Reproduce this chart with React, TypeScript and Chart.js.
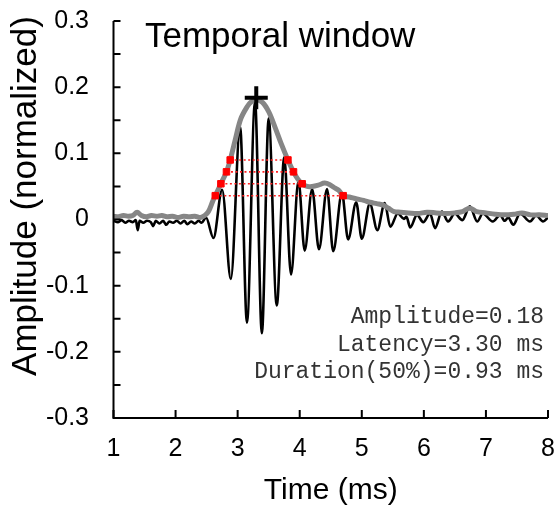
import React, { useEffect, useRef } from 'react';
import { Chart, registerables } from 'chart.js';

Chart.register(...registerables);

// ---- data ----
const blackT = [
  1.0, 1.07, 1.13, 1.19, 1.25, 1.31, 1.36, 1.39, 1.42, 1.48, 1.54, 1.6, 1.64, 1.68, 1.74, 1.8, 1.85, 1.9,
  1.96, 2.02, 2.08, 2.14, 2.19, 2.25, 2.31, 2.37, 2.42, 2.49, 2.61, 2.75, 2.89, 3.04, 3.15, 3.28, 3.39,
  3.5, 3.63, 3.75, 3.86, 3.98, 4.08, 4.2, 4.31, 4.44, 4.54, 4.68, 4.78, 4.91, 5.0, 5.13, 5.25, 5.37,
  5.46, 5.58, 5.68, 5.72, 5.78, 5.89, 5.99, 6.1, 6.18, 6.29, 6.39, 6.5, 6.62, 6.74, 6.86, 6.95, 7.11,
  7.23, 7.3, 7.36, 7.44, 7.55, 7.71, 7.81, 7.92, 8.0,
];
const blackV = [
  -0.002, -0.004, -0.001, -0.005, -0.002, -0.004, -0.001, -0.016, -0.002, -0.005, -0.002, -0.004, -0.01,
  -0.002, -0.006, -0.002, -0.008, -0.003, -0.005, -0.002, -0.006, -0.002, -0.007, -0.003, -0.006, -0.002,
  -0.005, 0.003, -0.028, 0.045, -0.09, 0.14, -0.156, 0.178, -0.172, 0.153, -0.13, 0.094, -0.083, 0.058,
  -0.047, 0.046, -0.045, 0.046, -0.048, 0.04, -0.03, 0.026, -0.029, 0.024, -0.016, 0.025, -0.011, 0.009,
  0.001, 0.004, -0.012, 0.007, -0.004, 0.009, -0.013, 0.012, -0.003, 0.009, -0.001, 0.02, -0.003, 0.009,
  -0.003, 0.007, -0.002, 0.003, -0.008, 0.009, -0.003, 0.006, -0.003, 0.003,
];

const envT = [
  1.0, 1.08, 1.16, 1.24, 1.31, 1.38, 1.45, 1.53, 1.61, 1.7, 1.78, 1.86, 1.95, 2.04, 2.13, 2.22, 2.31, 2.4,
  2.47, 2.53, 2.6, 2.64, 2.73, 2.82, 2.88, 2.96, 3.05, 3.15, 3.22, 3.3, 3.4, 3.5, 3.6, 3.7, 3.81, 3.9,
  3.97, 4.04, 4.12, 4.2, 4.3, 4.4, 4.48, 4.56, 4.63, 4.7, 4.8, 4.92, 5.03, 5.13, 5.24, 5.34, 5.43, 5.52,
  5.62, 5.75, 5.9, 6.05, 6.2, 6.35, 6.5, 6.62, 6.74, 6.85, 7.0, 7.15, 7.3, 7.45, 7.58, 7.72, 7.86, 8.0,
];
const envV = [
  0.005, 0.004, 0.006, 0.005, 0.006, 0.011, 0.006, 0.004, 0.006, 0.005, 0.006, 0.004, 0.005, 0.003, 0.005,
  0.004, 0.005, 0.003, 0.006, 0.012, 0.028, 0.036, 0.054, 0.072, 0.09, 0.12, 0.152, 0.17, 0.178, 0.181,
  0.177, 0.163, 0.14, 0.115, 0.09, 0.072, 0.061, 0.054, 0.05, 0.05, 0.052, 0.055, 0.053, 0.048, 0.044,
  0.036, 0.034, 0.031, 0.029, 0.026, 0.024, 0.022, 0.017, 0.012, 0.011, 0.01, 0.009, 0.011, 0.01, 0.009,
  0.01, 0.012, 0.017, 0.012, 0.01, 0.008, 0.007, 0.008, 0.01, 0.007, 0.007, 0.006,
];

// envelope crossings at 50%, 40%, 30%, 20% of the peak
const levelV = [0.09, 0.072, 0.054, 0.036];
const levelLeftT = [2.88, 2.82, 2.73, 2.64];
const levelRightT = [3.81, 3.9, 4.04, 4.7];

const peakT = [3.3];
const peakV = [0.184];

const xTickValues = [1, 2, 3, 4, 5, 6, 7, 8];
const xTickLabels = ['1', '2', '3', '4', '5', '6', '7', '8'];
const yTickValues = [-0.3, -0.25, -0.2, -0.15, -0.1, -0.05, 0, 0.05, 0.1, 0.15, 0.2, 0.25, 0.3];
const yTickLabels = ['-0.3', '', '-0.2', '', '-0.1', '', '0', '', '0.1', '', '0.2', '', '0.3'];

const panelTitle = 'Temporal window';
const statLines = ['Amplitude=0.18', 'Latency=3.30 ms', 'Duration(50%)=0.93 ms'];
const xTitle = 'Time (ms)';
const yTitle = 'Amplitude (normalized)';

const SANS = '"Liberation Sans", Arial, Helvetica, sans-serif';
const MONO = '"Liberation Mono", "Courier New", monospace';

const decorPlugin = {
  id: 'decor',
  afterDatasetsDraw(chart: any) {
    const { ctx, chartArea: a, scales } = chart;
    const x = scales.x;
    const y = scales.y;
    ctx.save();
    // axes
    ctx.strokeStyle = '#000';
    ctx.lineWidth = 2;
    ctx.lineCap = 'butt';
    ctx.beginPath();
    ctx.moveTo(a.left, a.top);
    ctx.lineTo(a.left, a.bottom);
    ctx.lineTo(a.right, a.bottom);
    ctx.stroke();
    // inward ticks
    ctx.beginPath();
    yTickValues.forEach((v) => {
      const py = y.getPixelForValue(v);
      ctx.moveTo(a.left, py);
      ctx.lineTo(a.left + 7, py);
    });
    xTickValues.forEach((v) => {
      const px = x.getPixelForValue(v);
      ctx.moveTo(px, a.bottom);
      ctx.lineTo(px, a.bottom - 8);
    });
    ctx.stroke();

    // panel title
    ctx.fillStyle = '#000';
    ctx.font = `35px ${SANS}`;
    ctx.textAlign = 'left';
    ctx.textBaseline = 'alphabetic';
    ctx.fillText(panelTitle, a.left + 31.5, a.top + 26);

    // statistics
    ctx.fillStyle = '#333';
    ctx.font = `23px ${MONO}`;
    ctx.textAlign = 'right';
    statLines.forEach((s, i) => {
      ctx.fillText(s, a.right - 4, a.top + 302 + i * 27.5);
    });

    // y title
    ctx.fillStyle = '#000';
    ctx.font = `35px ${SANS}`;
    ctx.translate(26, 196);
    ctx.rotate(-Math.PI / 2);
    ctx.textAlign = 'center';
    ctx.textBaseline = 'middle';
    ctx.fillText(yTitle, 0, 0);
    ctx.restore();
  },
};

export default function App() {
  const ref = useRef<HTMLCanvasElement | null>(null);

  useEffect(() => {
    if (!ref.current) return;
    const pts = (ts: number[], vs: number[]) => ts.map((t, i) => ({ x: t, y: vs[i] }));

    const levelLines = levelV.map((v, i) => ({
      type: 'line' as const,
      data: [
        { x: levelLeftT[i], y: v },
        { x: levelRightT[i], y: v },
      ],
      borderColor: '#ff2020',
      borderWidth: 1.6,
      borderDash: [2, 2.5],
      pointRadius: 0,
      order: 2,
    }));

    const chart = new Chart(ref.current, {
      type: 'line',
      data: {
        datasets: [
          {
            data: pts(peakT, peakV),
            showLine: false,
            pointStyle: 'cross',
            pointRadius: 11.5,
            pointBorderWidth: 4,
            pointBorderColor: '#000',
            pointBackgroundColor: '#000',
            clip: false,
            order: 0,
          },
          {
            data: [...pts(levelLeftT, levelV), ...pts(levelRightT, levelV)],
            showLine: false,
            pointStyle: 'rect',
            pointRadius: 4.6,
            pointBorderWidth: 1,
            pointBorderColor: '#ff0000',
            pointBackgroundColor: '#ff0000',
            order: 1,
          },
          ...levelLines,
          {
            data: pts(envT, envV),
            borderColor: '#868686',
            borderWidth: 5,
            pointRadius: 0,
            tension: 0.35,
            order: 3,
          },
          {
            data: pts(blackT, blackV),
            borderColor: '#000',
            borderWidth: 2.6,
            pointRadius: 0,
            cubicInterpolationMode: 'monotone',
            order: 4,
          },
        ] as any,
      },
      options: {
        animation: false,
        responsive: false,
        maintainAspectRatio: false,
        devicePixelRatio: 1,
        layout: { autoPadding: false, padding: { left: 0, right: 8, top: 21, bottom: 0 } },
        plugins: { legend: { display: false }, tooltip: { enabled: false } },
        scales: {
          x: {
            type: 'linear',
            min: 1,
            max: 8,
            afterFit: (s: any) => {
              s.height = 89;
              s.paddingLeft = 0;
              s.paddingRight = 0;
            },
            afterBuildTicks: (s: any) => {
              s.ticks = xTickValues.map((v) => ({ value: v }));
            },
            grid: { display: false, drawTicks: true, tickLength: 16 },
            border: { display: false },
            ticks: {
              autoSkip: false,
              maxRotation: 0,
              padding: 0,
              color: '#000',
              font: { size: 25, family: SANS },
              callback: (_v: any, i: number) => xTickLabels[i],
            },
            title: {
              display: true,
              text: xTitle,
              color: '#000',
              font: { size: 30, family: SANS, lineHeight: 1 },
              padding: { top: 0, bottom: 1 },
            },
          },
          y: {
            type: 'linear',
            min: -0.3,
            max: 0.3,
            afterFit: (s: any) => {
              s.width = 113.5;
              s.paddingTop = 0;
              s.paddingBottom = 0;
            },
            afterBuildTicks: (s: any) => {
              s.ticks = yTickValues.map((v) => ({ value: v }));
            },
            grid: { display: false, drawTicks: true, tickLength: 24 },
            border: { display: false },
            ticks: {
              autoSkip: false,
              padding: 0.5,
              color: '#000',
              font: { size: 25, family: SANS },
              callback: (_v: any, i: number) => yTickLabels[i],
            },
          },
        },
      } as any,
      plugins: [decorPlugin],
    });
    return () => chart.destroy();
  }, []);

  return (
    <div style={{ position: 'fixed', left: 0, top: 0, width: 556, height: 507, background: '#fff' }}>
      <canvas ref={ref} width={556} height={507} style={{ display: 'block', width: 556, height: 507 }} />
    </div>
  );
}
